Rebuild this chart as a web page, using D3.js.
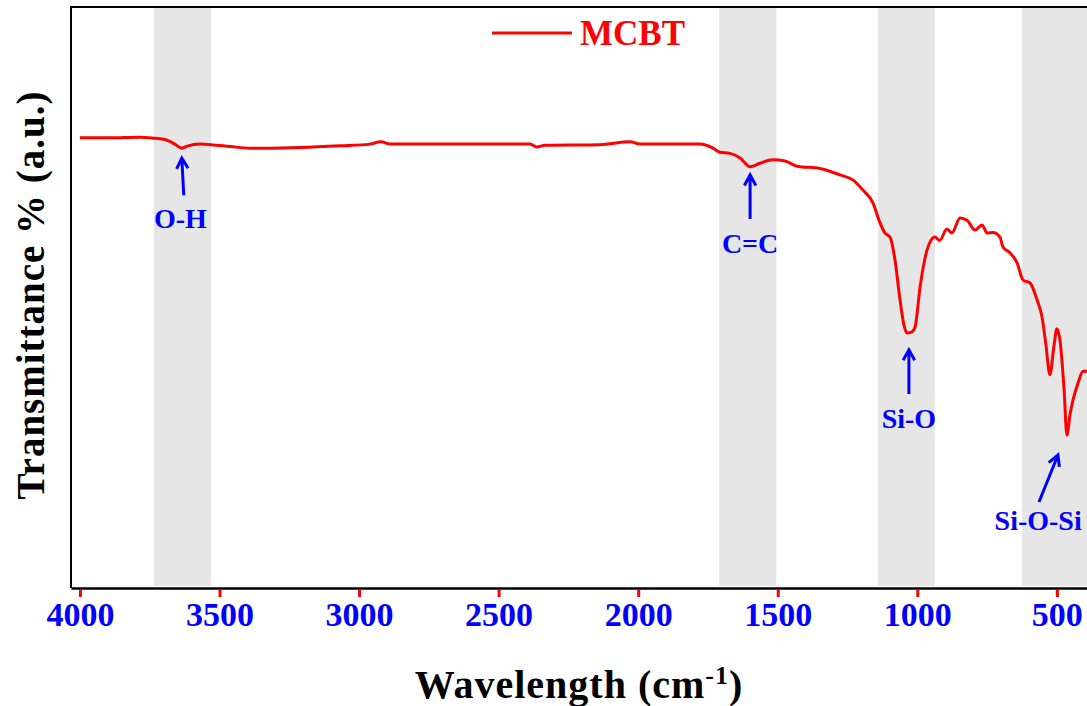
<!DOCTYPE html>
<html>
<head>
<meta charset="utf-8">
<script src="https://cdn.jsdelivr.net/npm/d3@7"></script>
<style>
  body { margin: 0; background: #fff; }
  svg { display: block; }
  text { font-family: "Liberation Serif", "Times New Roman", serif; font-weight: bold; }
</style>
</head>
<body>
<svg id="chart" width="1087" height="706"></svg>
<script>
'use strict';
// FTIR spectrum of MCBT
var wavenumber = [4000, 3892, 3785, 3731, 3695, 3660, 3635, 3613, 3570, 3531, 3463, 3391, 3319, 3212,
    3068, 2961, 2922, 2889, 2674, 2388, 2363, 2334, 2137, 2029, 1994, 1779, 1732, 1707, 1671, 1635,
    1599, 1564, 1517, 1474, 1431, 1349, 1277, 1230, 1195, 1159, 1134, 1116, 1098, 1080, 1062, 1048,
    1037, 1019, 1008, 990, 965, 937, 920, 894, 876, 847, 822, 793, 768, 750, 729, 704, 693, 668,
    643, 621, 596, 571, 553, 539, 525, 510, 500, 489, 474, 464, 453, 442, 424, 406, 392];
var transmittance = [77.5, 77.5, 77.6, 77.4, 77.2, 76.4, 75.7, 76.1, 76.4, 76.3, 76.0, 75.7, 75.7, 75.8,
    76.1, 76.4, 76.8, 76.4, 76.4, 76.4, 75.9, 76.2, 76.3, 76.8, 76.4, 76.4, 75.7, 75.0, 74.8, 74.0,
    72.5, 73.1, 73.7, 73.5, 72.6, 72.2, 71.1, 70.2, 68.5, 66.3, 62.9, 61.1, 60.4, 56.5, 49.6, 45.3,
    43.9, 44.1, 44.9, 51.8, 58.2, 60.4, 59.8, 61.8, 61.1, 63.7, 63.3, 61.6, 62.5, 61.1, 61.2, 60.4, 58.7, 57.7,
    56.0, 53.0, 52.5, 49.6, 46.6, 41.8, 36.7, 41.8, 44.6, 42.7, 34.1, 26.3, 29.8, 32.4, 35.3, 37.3, 37.3];
var xTicks = [4000, 3500, 3000, 2500, 2000, 1500, 1000, 500];
// shaded regions [from, to] in cm-1
var bands = [[3735, 3530], [1710, 1505], [1140, 937], [625, 392]];
// peak labels: tip / tail of the arrow and label baseline, in data units
var peakLabels = ['O-H', 'C=C', 'Si-O', 'Si-O-Si'];
var peakTip = [[3635, 74.0], [1599, 71.1], [1030, 41.0], [496, 22.9]];
var peakTail = [[3628, 67.6], [1599, 63.5], [1030, 33.4], [564, 14.8]];
var peakText = [[3640, 62.0], [1599, 57.7], [1030, 27.5], [567, 10.0]];
var seriesName = 'MCBT';

var svg = d3.select('#chart'),
        margin = {top: 7, right: 0, bottom: 118, left: 71},
        width = +svg.attr('width') - margin.left - margin.right,
        height = +svg.attr('height') - margin.top - margin.bottom;

var x = d3.scaleLinear().domain([4032, 392]).range([0, width]);
var y = d3.scaleLinear().domain([0, 100]).range([height, 0]);

var g = svg.append('g').attr('transform', 'translate(' + margin.left + ',' + margin.top + ')');

g.selectAll('.band')
        .data(bands)
        .enter().append('rect')
        .attr('class', 'band')
        .attr('x', function (d) { return x(d[0]); })
        .attr('width', function (d) { return x(d[1]) - x(d[0]); })
        .attr('y', 0)
        .attr('height', height - 2)
        .attr('fill', '#e6e6e6');

var points = wavenumber.map(function (w, i) { return [w, transmittance[i]]; });
var line = d3.line()
        .x(function (d) { return x(d[0]); })
        .y(function (d) { return y(d[1]); })
        .curve(d3.curveMonotoneX);
g.append('path')
        .datum(points)
        .attr('d', line)
        .attr('fill', 'none')
        .attr('stroke', '#ff0000')
        .attr('stroke-width', 3)
        .attr('stroke-linejoin', 'round');

// frame: left and top, bottom is the axis
g.append('path')
        .attr('d', 'M0,' + height + 'V0H' + width)
        .attr('fill', 'none')
        .attr('stroke', '#000')
        .attr('stroke-width', 2);

var xAxis = d3.axisBottom(x).tickValues(xTicks).tickFormat(d3.format('d'))
        .tickSize(9).tickPadding(5).tickSizeOuter(0);
var gx = g.append('g')
        .attr('transform', 'translate(0,' + height + ')')
        .call(xAxis);
gx.select('.domain').attr('stroke', '#000').attr('stroke-width', 2.5);
gx.selectAll('.tick line').attr('stroke', '#ff0000').attr('stroke-width', 3)
        .attr('y1', 2);
gx.selectAll('.tick text')
        .attr('fill', '#0000ff')
        .style('font-size', '34px')
        .style('font-family', '"Liberation Serif", "Times New Roman", serif')
        .style('font-weight', 'bold');

// peak arrows
var arrows = g.selectAll('.peak')
        .data(peakLabels)
        .enter().append('g')
        .attr('class', 'peak');
arrows.append('path')
        .attr('d', function (d, i) {
            var x1 = x(peakTail[i][0]), y1 = y(peakTail[i][1]);
            var x2 = x(peakTip[i][0]), y2 = y(peakTip[i][1]);
            var a = Math.atan2(y2 - y1, x2 - x1), L = 12, s = 0.5;
            return 'M' + x1 + ',' + y1 + 'L' + x2 + ',' + y2 +
                    'M' + (x2 - L * Math.cos(a - s)) + ',' + (y2 - L * Math.sin(a - s)) +
                    'L' + x2 + ',' + y2 +
                    'L' + (x2 - L * Math.cos(a + s)) + ',' + (y2 - L * Math.sin(a + s));
        })
        .attr('fill', 'none')
        .attr('stroke', '#0000ff')
        .attr('stroke-width', 3);
arrows.append('text')
        .attr('x', function (d, i) { return x(peakText[i][0]); })
        .attr('y', function (d, i) { return y(peakText[i][1]); })
        .attr('text-anchor', 'middle')
        .attr('fill', '#0000ff')
        .style('font-size', '28px')
        .text(function (d) { return d; });

// legend
svg.append('line')
        .attr('x1', 492).attr('x2', 572)
        .attr('y1', 33).attr('y2', 33)
        .attr('stroke', '#ff0000').attr('stroke-width', 3);
svg.append('text')
        .attr('x', 580).attr('y', 45)
        .attr('fill', '#ff0000')
        .style('font-size', '35px')
        .text(seriesName);

// axis titles
var xt = svg.append('text')
        .attr('x', margin.left + width / 2)
        .attr('y', 698)
        .attr('text-anchor', 'middle')
        .style('font-size', '40px')
        .style('letter-spacing', '1px');
xt.append('tspan').text('Wavelength (cm');
xt.append('tspan').attr('dy', -14).style('font-size', '26px').text('-1');
xt.append('tspan').attr('dy', 14).text(')');

svg.append('text')
        .attr('transform', 'translate(44,' + (margin.top + 288) + ') rotate(-90)')
        .attr('text-anchor', 'middle')
        .style('font-size', '39px')
        .style('letter-spacing', '1px')
        .text('Transmittance % (a.u.)');
</script>
</body>
</html>
